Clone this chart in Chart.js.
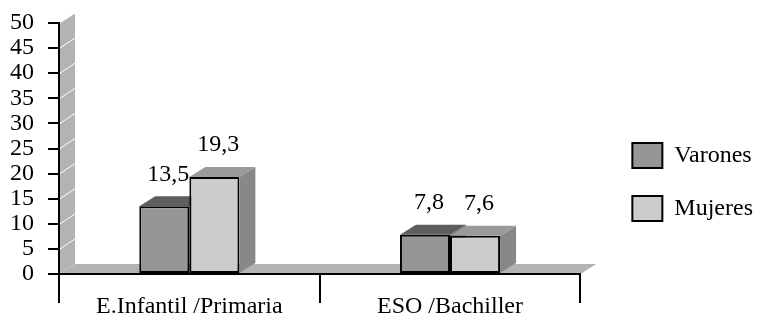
<!DOCTYPE html>
<html>
<head>
<meta charset="utf-8">
<script src="https://cdn.jsdelivr.net/npm/chart.js@4/dist/chart.umd.min.js"></script>
<style>
  html, body { margin: 0; padding: 0; background: #fff; }
  canvas { display: block; }
</style>
</head>
<body>
<canvas id="grafico" width="763" height="315"></canvas>
<script>
var categorias = ['E.Infantil /Primaria', 'ESO /Bachiller'];
var varones = [13.5, 7.8];
var mujeres = [19.3, 7.6];
var ticksY = { min: 0, max: 50, paso: 5 };

// profundidad del efecto 3D
var DX = 16, DY = -10;
// hueco entre el grafico y la leyenda
var HUECO = 24;

Chart.defaults.font.family = "'Liberation Serif', 'Times New Roman', serif";
Chart.defaults.font.size = 24;
Chart.defaults.color = '#000';

var colores = [
  { frente: '#969696', arriba: '#5e5e5e', lado: '#707070' },
  { frente: '#cccccc', arriba: '#9a9a9a', lado: '#888888' }
];

// pared y suelo grises, caras 3D y etiquetas
var fondo3d = {
  id: 'fondo3d',
  afterLayout: function (chart) {
    var lg = chart.legend;
    lg.left += HUECO;
    lg.right += HUECO;
  },
  beforeDraw: function (chart) {
    var ctx = chart.ctx, a = chart.chartArea, y = chart.scales.y;
    var top = y.getPixelForValue(ticksY.max), bot = y.getPixelForValue(0);
    ctx.save();
    ctx.fillStyle = '#b3b3b3';
    ctx.beginPath();
    ctx.moveTo(a.left, bot);
    ctx.lineTo(a.left, top);
    ctx.lineTo(a.left + DX, top + DY);
    ctx.lineTo(a.left + DX, bot + DY);
    ctx.closePath();
    ctx.fill();
    ctx.beginPath();
    ctx.moveTo(a.left, bot);
    ctx.lineTo(a.right, bot);
    ctx.lineTo(a.right + DX, bot + DY);
    ctx.lineTo(a.left + DX, bot + DY);
    ctx.closePath();
    ctx.fill();
    ctx.strokeStyle = '#fff';
    ctx.lineWidth = 1;
    for (var v = ticksY.paso; v <= ticksY.max; v += ticksY.paso) {
      var p = y.getPixelForValue(v);
      ctx.beginPath();
      ctx.moveTo(a.left + 1, p);
      ctx.lineTo(a.left + DX, p + DY);
      ctx.stroke();
    }
    ctx.restore();
  },
  beforeDatasetsDraw: function (chart) {
    var ctx = chart.ctx;
    ctx.save();
    chart.data.datasets.forEach(function (ds, i) {
      chart.getDatasetMeta(i).data.forEach(function (bar) {
        var l = bar.x - bar.width / 2, r = bar.x + bar.width / 2;
        var t = bar.y, b = bar.base;
        ctx.fillStyle = colores[i].lado;
        ctx.beginPath();
        ctx.moveTo(r, b); ctx.lineTo(r, t);
        ctx.lineTo(r + DX, t + DY); ctx.lineTo(r + DX, b + DY);
        ctx.closePath(); ctx.fill();
        ctx.fillStyle = colores[i].arriba;
        ctx.beginPath();
        ctx.moveTo(l, t); ctx.lineTo(r, t);
        ctx.lineTo(r + DX, t + DY); ctx.lineTo(l + DX, t + DY);
        ctx.closePath(); ctx.fill();
      });
    });
    ctx.restore();
  },
  afterDatasetsDraw: function (chart) {
    var ctx = chart.ctx;
    ctx.save();
    ctx.font = "24px 'Liberation Serif', serif";
    ctx.fillStyle = '#000';
    ctx.textAlign = 'center';
    ctx.textBaseline = 'bottom';
    chart.data.datasets.forEach(function (ds, i) {
      chart.getDatasetMeta(i).data.forEach(function (bar, j) {
        var txt = String(ds.data[j]).replace('.', ',');
        ctx.fillText(txt, bar.x + DX / 4, bar.y + DY - 10);
      });
    });
    ctx.restore();
  }
};

var chart = new Chart(document.getElementById('grafico'), {
  type: 'bar',
  data: {
    labels: categorias,
    datasets: [
      { label: 'Varones', data: varones, backgroundColor: colores[0].frente,
        borderColor: '#000', borderWidth: 2, borderSkipped: false },
      { label: 'Mujeres', data: mujeres, backgroundColor: colores[1].frente,
        borderColor: '#000', borderWidth: 2, borderSkipped: false }
    ]
  },
  options: {
    responsive: false,
    animation: false,
    events: [],
    categoryPercentage: 0.384,
    barPercentage: 1,
    layout: { padding: { left: 10, top: 23, right: HUECO, bottom: 0 } },
    plugins: {
      tooltip: { enabled: false },
      legend: {
        position: 'right',
        align: 'center',
        title: { display: true, text: '', font: { size: 10, lineHeight: 1 }, padding: { top: 16, bottom: 0 } },
        labels: { boxWidth: 30, boxHeight: 25, padding: 28, color: '#000',
          font: { size: 24 } }
      }
    },
    scales: {
      x: {
        grid: { drawOnChartArea: false, color: '#000', lineWidth: 2, tickLength: 29 },
        border: { color: '#000', width: 2 },
        ticks: { padding: -8, font: { size: 24, lineHeight: 1 }, color: '#000' },
        afterFit: function (s) { s.height = 41; }
      },
      y: {
        min: ticksY.min, max: ticksY.max,
        grid: { drawOnChartArea: false, color: '#000', lineWidth: 2, tickLength: 11 },
        border: { color: '#000', width: 2 },
        ticks: { stepSize: ticksY.paso, autoSkip: false, padding: 14,
          font: { size: 24, lineHeight: 0.75 }, color: '#000' },
        afterFit: function (s) { s.width = 49; }
      }
    }
  },
  plugins: [fondo3d]
});
</script>
</body>
</html>
